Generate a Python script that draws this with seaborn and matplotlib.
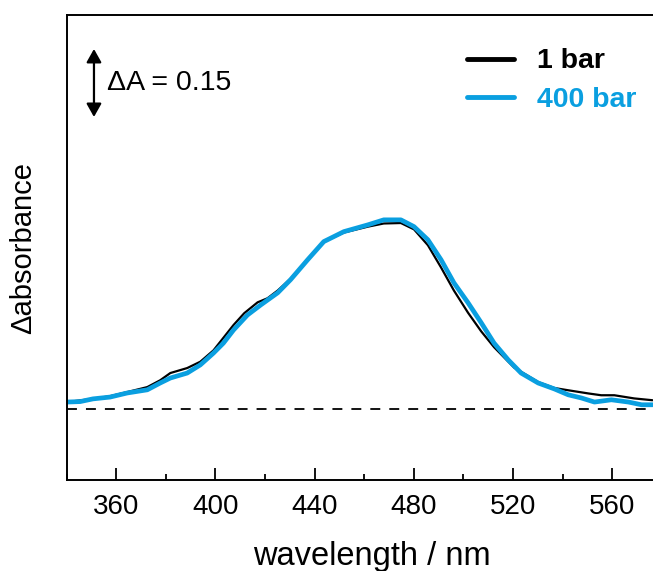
import numpy as np
import pandas as pd
import matplotlib
matplotlib.use("Agg")
import matplotlib.pyplot as plt
import seaborn as sns
from matplotlib.ticker import MultipleLocator

# ---- data ----
wl_400 = [340.0, 345.4, 350.6, 357.5, 364.4, 372.5, 377.7, 381.8, 388.6, 393.9,
          399.2, 403.2, 407.3, 412.9, 418.2, 421.0, 425.1, 430.3, 437.2, 443.7,
          451.8, 461.5, 467.9, 474.8, 480.1, 485.7, 491.0, 496.2, 501.9, 507.2,
          512.4, 518.1, 523.3, 530.2, 536.7, 542.3, 547.6, 552.9, 559.7, 566.6,
          571.9, 576.3]
abs_400 = [0.016, 0.017, 0.023, 0.027, 0.036, 0.043, 0.058, 0.069, 0.080, 0.098,
           0.124, 0.146, 0.175, 0.208, 0.230, 0.241, 0.257, 0.286, 0.330, 0.370,
           0.392, 0.407, 0.418, 0.418, 0.403, 0.374, 0.330, 0.279, 0.235, 0.191,
           0.146, 0.109, 0.080, 0.058, 0.045, 0.032, 0.025, 0.016, 0.021, 0.016,
           0.010, 0.010]

wl_1 = [340.0, 350.6, 357.5, 364.4, 372.5, 377.7, 381.8, 388.6, 393.9, 399.2,
        407.3, 411.6, 417.0, 421.0, 425.1, 430.3, 437.2, 443.7, 451.8, 461.5,
        467.9, 474.8, 480.1, 485.7, 491.0, 496.2, 501.9, 507.2, 512.4, 520.5,
        530.2, 536.7, 542.3, 550.4, 555.6, 560.9, 568.9, 576.3]
abs_1 = [0.016, 0.023, 0.029, 0.038, 0.049, 0.064, 0.080, 0.091, 0.105, 0.130,
         0.186, 0.212, 0.236, 0.245, 0.262, 0.288, 0.330, 0.370, 0.390, 0.403,
         0.410, 0.411, 0.397, 0.362, 0.313, 0.262, 0.213, 0.172, 0.137, 0.092,
         0.060, 0.047, 0.042, 0.035, 0.031, 0.031, 0.024, 0.020]

series_labels = ["1 bar", "400 bar"]
x_ticks = [360, 400, 440, 480, 520, 560]
scale_bar = 0.15

BLUE = "#0A9FE0"

sns.set_style("ticks")
plt.rcParams["font.family"] = ["Liberation Sans", "DejaVu Sans"]
plt.rcParams["text.color"] = "black"
plt.rcParams["axes.labelcolor"] = "black"
plt.rcParams["xtick.color"] = "black"

fig = plt.figure(figsize=(6.53, 5.71), dpi=100)
ax = fig.add_axes([66.7 / 653, 91 / 571, (653 - 66.7) / 653, 465 / 571])

df1 = pd.DataFrame({"wl": wl_1, "A": abs_1})
df4 = pd.DataFrame({"wl": wl_400, "A": abs_400})

sns.lineplot(data=df1, x="wl", y="A", color="black", linewidth=1.6, ax=ax,
             label=series_labels[0], estimator=None, sort=False)
sns.lineplot(data=df4, x="wl", y="A", color=BLUE, linewidth=3.4, ax=ax,
             label=series_labels[1], estimator=None, sort=False)

ax.axhline(0, color="black", lw=1.3, dashes=(5.5, 5), zorder=1)

ax.set_xlim(340, 576.5)
ax.set_ylim(-0.156, 0.870)
ax.set_xticks(x_ticks)
ax.xaxis.set_minor_locator(MultipleLocator(20))
ax.set_yticks([])
ax.tick_params(axis="x", which="major", direction="in", length=8.6, width=1.3,
               labelsize=20, pad=10, colors="black")
ax.tick_params(axis="x", which="minor", direction="in", length=4.3, width=1.3)
ax.tick_params(axis="x", which="both", top=False)
for s in ["left", "bottom", "top"]:
    ax.spines[s].set_linewidth(1.4)
    ax.spines[s].set_color("black")
ax.spines["right"].set_visible(False)

ax.set_xlabel("wavelength / nm", fontsize=23.5, labelpad=15, x=0.521)
ax.set_ylabel("Δabsorbance", fontsize=21, labelpad=21)

# scale bar
x_bar = 351.0
y_mid = 0.720
ax.annotate("", xy=(x_bar, y_mid + scale_bar / 2), xytext=(x_bar, y_mid - scale_bar / 2),
            arrowprops=dict(arrowstyle="<|-|>,head_length=0.8,head_width=0.45",
                            color="black", lw=1.6, shrinkA=0, shrinkB=0))
ax.text(x_bar + 5.3, y_mid, f"ΔA = {scale_bar}", fontsize=20.5, va="center", ha="left")

leg = ax.legend(loc="upper left", bbox_to_anchor=(0.683, 0.928), frameon=False,
                prop={"weight": "bold", "size": 20.5}, labelcolor="linecolor",
                handlelength=1.65, handletextpad=0.8, labelspacing=0.45,
                borderpad=0, borderaxespad=0)
for h in leg.get_lines():
    h.set_linewidth(3.5)
    h.set_solid_capstyle("round")

fig.savefig("out.png", dpi=100)
